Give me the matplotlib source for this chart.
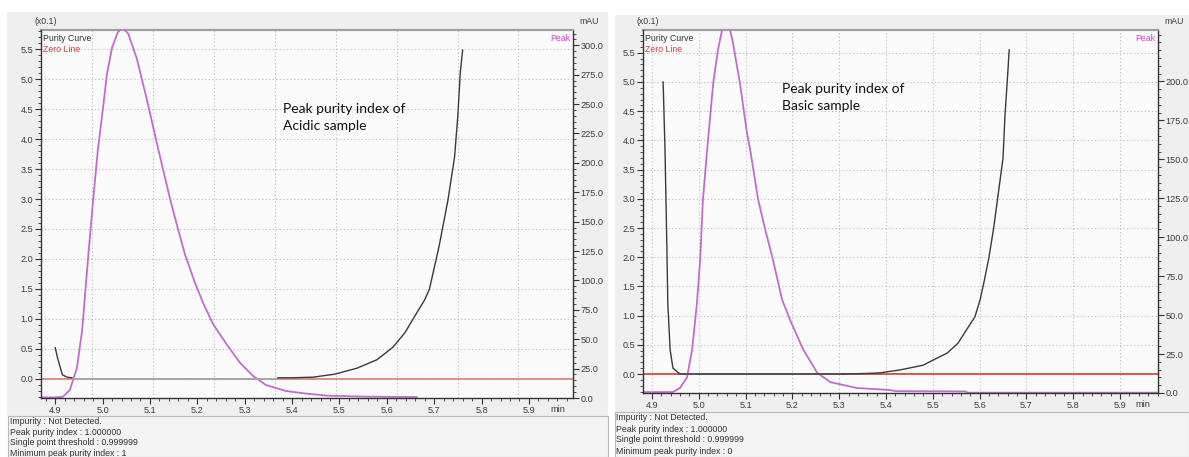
import matplotlib
matplotlib.use("Agg")
import matplotlib.pyplot as plt
import numpy as np
from matplotlib.patches import Rectangle
from matplotlib.ticker import MultipleLocator, FormatStrFormatter

# ---------------- data: Acidic sample ----------------
acid_peak_t = [4.870, 4.900, 4.916, 4.931, 4.946, 4.957, 4.963, 4.970, 4.980, 4.990,
               5.001, 5.009, 5.020, 5.032, 5.042, 5.054, 5.072, 5.094, 5.115, 5.142,
               5.159, 5.174, 5.195, 5.212, 5.233, 5.263, 5.290, 5.317, 5.345, 5.387,
               5.424, 5.473, 5.550, 5.663]
acid_peak_mau = [0.5, 0.5, 1.0, 6.8, 26, 58, 88, 122, 168, 211,
                 247, 275, 298, 311, 315, 310, 289, 253, 216, 170,
                 144, 122, 98, 81, 63, 45, 30, 19, 11, 6,
                 4, 2, 1.2, 0.8]
acid_pur_t1 = [4.900, 4.905, 4.915, 4.925, 4.935]
acid_pur_v1 = [0.52, 0.35, 0.07, 0.03, 0.02]
acid_flat_t = [4.935, 5.370]
acid_flat_v = [0.0, 0.0]
acid_pur_t2 = [5.370, 5.400, 5.444, 5.490, 5.537, 5.579, 5.613, 5.638, 5.663, 5.680,
               5.690, 5.710, 5.729, 5.743, 5.750, 5.755, 5.760]
acid_pur_v2 = [0.02, 0.02, 0.03, 0.08, 0.18, 0.32, 0.53, 0.77, 1.10, 1.32,
               1.50, 2.20, 2.98, 3.70, 4.40, 5.10, 5.48]

# ---------------- data: Basic sample ----------------
basic_peak_t = [4.881, 4.945, 4.960, 4.975, 4.986, 4.996, 5.003, 5.009, 5.018, 5.031,
                5.041, 5.052, 5.058, 5.065, 5.073, 5.088, 5.103, 5.110, 5.127, 5.142,
                5.159, 5.178, 5.195, 5.223, 5.253, 5.281, 5.338, 5.409, 5.420, 5.570,
                5.575, 5.981]
basic_peak_mau = [0.6, 0.6, 3.2, 10, 28, 57, 85, 124, 156, 199,
                  220, 236, 238, 236, 225, 199, 167, 156, 124, 105,
                  85, 60, 47, 28, 13, 7, 3.2, 1.9, 1.2, 1.0,
                  0.2, 0.2]
basic_pur_t1 = [4.924, 4.928, 4.932, 4.934, 4.939, 4.945, 4.960]
basic_pur_v1 = [5.00, 3.84, 2.17, 1.20, 0.41, 0.10, 0.0]
basic_flat_t = [4.960, 5.308]
basic_flat_v = [0.0, 0.0]
basic_pur_t2 = [5.308, 5.360, 5.387, 5.430, 5.479, 5.501, 5.531, 5.554, 5.569, 5.590,
                5.601, 5.610, 5.620, 5.630, 5.640, 5.650, 5.654, 5.661, 5.663]
basic_pur_v2 = [0.0, 0.01, 0.02, 0.07, 0.15, 0.24, 0.36, 0.53, 0.72, 0.98,
                1.27, 1.60, 2.00, 2.50, 3.10, 3.70, 4.40, 5.26, 5.55]

x_ticks = [4.9, 5.0, 5.1, 5.2, 5.3, 5.4, 5.5, 5.6, 5.7, 5.8, 5.9]
info_acid = ["Impurity : Not Detected.", "Peak purity index : 1.000000",
             "Single point threshold : 0.999999", "Minimum peak purity index : 1"]
info_basic = ["Impurity : Not Detected.", "Peak purity index : 1.000000",
              "Single point threshold : 0.999999", "Minimum peak purity index : 0"]

W, H = 1189, 457
fig = plt.figure(figsize=(W / 100, H / 100), dpi=100)
fig.patch.set_facecolor("white")

PINK = "#c46bcf"
BLACK = "#3a3a3a"
RED = "#cf5a50"
TICKC = "#3c3c3c"
TF = ["Liberation Sans", "DejaVu Sans"]
NARROW = ["Liberation Sans Narrow", "Liberation Sans", "DejaVu Sans"]


def px_rect(x0, y0, x1, y1, **kw):
    fig.patches.append(Rectangle((x0 / W, 1 - y1 / H), (x1 - x0) / W, (y1 - y0) / H,
                                 transform=fig.transFigure, **kw))


def fig_text(x, y, s, **kw):
    fig.text(x / W, 1 - y / H, s, **kw)


# background frames
px_rect(7, 12, 608, 416, facecolor="#efefef", edgecolor="none", zorder=-5)
px_rect(8, 416, 608, 457, facecolor="#f3f3f3", edgecolor="#b8b8b8", lw=0.8, zorder=-5)
px_rect(615, 15, 1189, 412, facecolor="#efefef", edgecolor="none", zorder=-5)
px_rect(615, 412, 1189, 457, facecolor="#f3f3f3", edgecolor="#b8b8b8", lw=0.8, zorder=-5)


def make_panel(rect_px, xlim, ylim_l, ylim_r, rmax, peak_t, peak_v, p1t, p1v, ft, fv,
               p2t, p2v, flat_color, zero_color, grid_fracs, ann_xy, ann_text):
    x0, y0, x1, y1 = rect_px
    pos = [x0 / W, 1 - y1 / H, (x1 - x0) / W, (y1 - y0) / H]
    # right axis (chromatogram) drawn underneath
    ax2 = fig.add_axes(pos, zorder=1)
    ax2.set_facecolor("#fbfbfb")
    ax2.yaxis.tick_right()
    ax2.yaxis.set_label_position("right")
    ax2.set_xlim(*xlim)
    ax2.set_ylim(*ylim_r)
    ax2.set_xticks([])
    # left axis (purity) on top, transparent
    ax = fig.add_axes(pos, zorder=2)
    ax.patch.set_visible(False)
    ax.set_xlim(*xlim)
    ax.set_ylim(*ylim_l)

    # grids
    ax.yaxis.set_major_locator(MultipleLocator(0.5))
    ax.yaxis.set_minor_locator(MultipleLocator(0.1))
    for yv in np.arange(0.0, ylim_l[1], 0.5):
        ax2.axhline(ylim_r[0] + (yv - ylim_l[0]) / (ylim_l[1] - ylim_l[0]) * (ylim_r[1] - ylim_r[0]),
                    color="#c4c4c4", lw=0.8, ls=(0, (1.2, 2)), zorder=1)
    if grid_fracs is None:
        for xv in x_ticks:
            ax2.axvline(xv, color="#c4c4c4", lw=0.8, ls=(0, (1.2, 2)), zorder=1)
    else:
        for f in grid_fracs:
            ax2.axvline(xlim[0] + f * (xlim[1] - xlim[0]), color="#c4c4c4", lw=0.8,
                        ls=(0, (1.2, 2)), zorder=1)

    # zero line
    ax.axhline(0.0, color=zero_color, lw=1.4, zorder=2)
    # purity curve
    ax.plot(ft, fv, color=flat_color, lw=1.3, zorder=3)
    ax.plot(p1t, p1v, color=BLACK, lw=1.0, zorder=4)
    ax.plot(p2t, p2v, color=BLACK, lw=1.0, zorder=4)
    # chromatogram peak
    ax2.plot(peak_t, peak_v, color=PINK, lw=1.3, zorder=5)

    # axes styling
    ax.set_xticks(x_ticks)
    ax.xaxis.set_minor_locator(MultipleLocator(0.02))
    ax.xaxis.set_major_formatter(FormatStrFormatter("%.1f"))
    ax.yaxis.set_major_formatter(FormatStrFormatter("%.1f"))
    ax2.set_yticks(np.arange(0, rmax + 1, 25))
    ax2.yaxis.set_minor_locator(MultipleLocator(5))
    ax2.yaxis.set_major_formatter(FormatStrFormatter("%.1f"))
    ax2.set_ylim(*ylim_r)
    for a in (ax, ax2):
        a.tick_params(which="major", length=4, width=0.8, color="#333333",
                      labelsize=6.6, labelcolor=TICKC, pad=1.5)
        a.tick_params(which="minor", length=2, width=0.6, color="#333333")
        for lab in a.get_xticklabels() + a.get_yticklabels():
            lab.set_fontfamily(TF)
    for sp in ("left", "bottom"):
        ax.spines[sp].set_color("#333333")
        ax.spines[sp].set_linewidth(1.0)
    ax.spines["right"].set_visible(False)
    ax2.spines["right"].set_color("#333333")
    ax2.spines["right"].set_linewidth(1.0)
    ax2.spines["left"].set_visible(False)
    ax2.spines["bottom"].set_visible(False)
    ax2.spines["top"].set_color("#a0a0a0")
    ax2.spines["top"].set_linewidth(1.6)
    ax.spines["top"].set_visible(False)

    # labels
    ax.text(-0.012, 1.012, "(x0.1)", transform=ax.transAxes, fontsize=6.3,
            color=TICKC, family=TF, ha="left", va="bottom")
    ax.text(0.003, 0.988, "Purity Curve", transform=ax.transAxes, fontsize=6.3,
            color="#333333", family=TF, ha="left", va="top")
    ax.text(0.003, 0.960, "Zero Line", transform=ax.transAxes, fontsize=6.3,
            color="#d04040", family=TF, ha="left", va="top")
    ax.text(0.995, 0.988, "Peak", transform=ax.transAxes, fontsize=6.3,
            color="#d040d0", family=TF, ha="right", va="top")
    ax.text(1.012, 1.012, "mAU", transform=ax.transAxes, fontsize=6.3,
            color=TICKC, family=TF, ha="left", va="bottom")
    ax.text(0.985, -0.018, "min", transform=ax.transAxes, fontsize=6.6,
            color=TICKC, family=TF, ha="right", va="top")
    fig_text(ann_xy[0], ann_xy[1], ann_text, fontsize=10, family=["Lato", "DejaVu Sans"],
             color="#111111", ha="left", va="top", linespacing=1.45)
    return ax


left_grid = [0.0959 + 0.1145 * k for k in range(8)]
make_panel((41, 30, 573, 398), (4.870, 5.993), (-0.317, 5.817), (0, 313), 300,
           acid_peak_t, acid_peak_mau, acid_pur_t1, acid_pur_v1, acid_flat_t, acid_flat_v,
           acid_pur_t2, acid_pur_v2, "#a8a8a8", "#de8f86", left_grid,
           (283, 103), "Peak purity index of\nAcidic sample")
make_panel((643, 30, 1158, 393), (4.881, 5.981), (-0.325, 5.89), (0, 233), 200,
           basic_peak_t, basic_peak_mau, basic_pur_t1, basic_pur_v1, basic_flat_t, basic_flat_v,
           basic_pur_t2, basic_pur_v2, "#505050", RED, None,
           (782, 83), "Peak purity index of\nBasic sample")

for i, s in enumerate(info_acid):
    fig_text(10, 422 + i * 10.4, s, fontsize=6.3, family=NARROW, color="#333333",
             ha="left", va="center")
for i, s in enumerate(info_basic):
    fig_text(616, 418 + i * 11.0, s, fontsize=6.3, family=NARROW, color="#333333",
             ha="left", va="center")

fig.savefig("out.png", dpi=100)
